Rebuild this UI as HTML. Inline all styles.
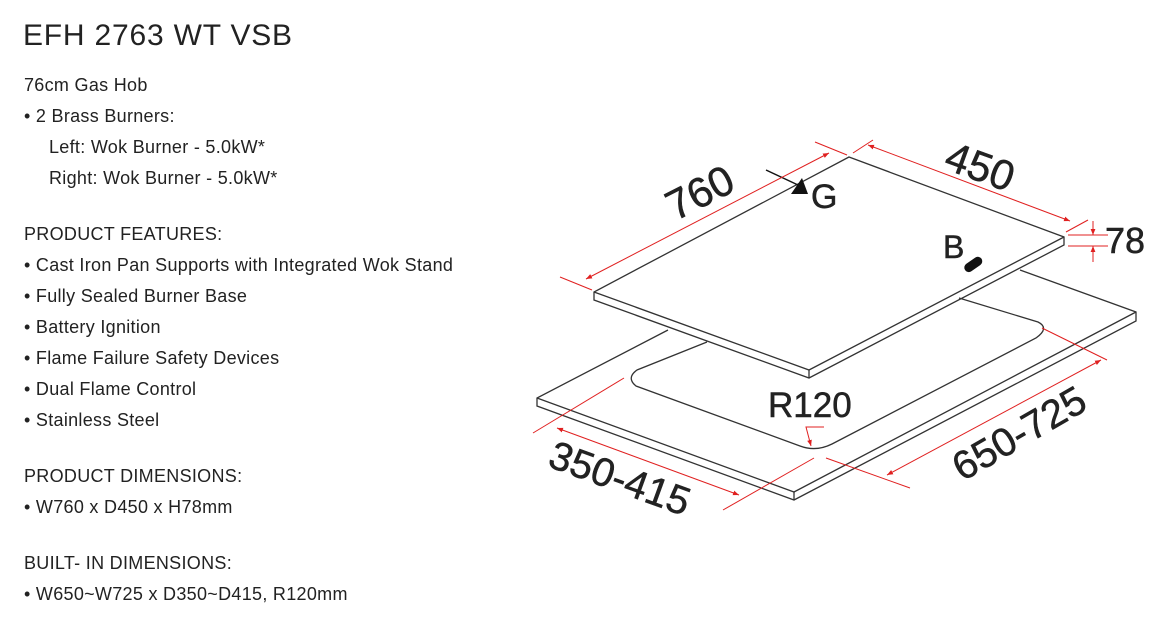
<!DOCTYPE html>
<html><head><meta charset="utf-8"><style>
html,body{margin:0;padding:0;background:#fff;}
body{width:1164px;height:630px;position:relative;overflow:hidden;font-family:"Liberation Sans",Arial,sans-serif;color:#222;}
.t{position:absolute;left:24px;white-space:nowrap;font-size:18px;line-height:20px;letter-spacing:0.3px;}
h1{position:absolute;left:23px;top:19px;margin:0;font-weight:normal;font-size:30px;line-height:34px;color:#222;letter-spacing:0.8px;}
svg{position:absolute;left:0;top:0;}
</style></head><body>
<h1>EFH 2763 WT VSB</h1>
<div class="t" style="top:75px">76cm Gas Hob</div>
<div class="t" style="top:106px">• 2 Brass Burners:</div>
<div class="t" style="top:137px;left:49px">Left: Wok Burner - 5.0kW*</div>
<div class="t" style="top:168px;left:49px">Right: Wok Burner - 5.0kW*</div>
<div class="t" style="top:224px">PRODUCT FEATURES:</div>
<div class="t" style="top:255px">• Cast Iron Pan Supports with Integrated Wok Stand</div>
<div class="t" style="top:286px">• Fully Sealed Burner Base</div>
<div class="t" style="top:317px">• Battery Ignition</div>
<div class="t" style="top:348px">• Flame Failure Safety Devices</div>
<div class="t" style="top:379px">• Dual Flame Control</div>
<div class="t" style="top:410px">• Stainless Steel</div>
<div class="t" style="top:466px">PRODUCT DIMENSIONS:</div>
<div class="t" style="top:497px">• W760 x D450 x H78mm</div>
<div class="t" style="top:553px">BUILT- IN DIMENSIONS:</div>
<div class="t" style="top:584px">• W650~W725 x D350~D415, R120mm</div>

<svg width="1164" height="630" viewBox="0 0 1164 630">
<defs>
<marker id="a" viewBox="0 0 10 10" refX="10" refY="5" markerWidth="6" markerHeight="6" orient="auto-start-reverse"><path d="M0,1 L10,5 L0,9 z" fill="#e02020"/></marker>
</defs>
<g fill="none" stroke="#333" stroke-width="1.3">
<path d="M668,330 L537,398 L537,406 L794,500 L1136,321 L1136,312 L1020,270"/>
<path d="M537,398 L794,492 L1136,312"/>
<path d="M794,492 L794,500"/>
<path d="M707,342 L637,370 Q626,378 636,386 L800,446 Q816,452 832,444 L1036,338 Q1050,328 1038,322 L959,298"/>
<path d="M849,157 L1064,237 L1064,245 L809,378 L594,300 L594,292 Z"/>
<path d="M594,292 L809,370 L1064,237"/>
<path d="M809,370 L809,378"/>
</g>
<rect x="963" y="260" width="20" height="9" rx="4.5" transform="rotate(-35 973 264)" fill="#111"/>
<line x1="766" y1="170" x2="798" y2="185" stroke="#111" stroke-width="1.5"/>
<path d="M808,194 L791,194 L802,178 Z" fill="#111"/>
<g stroke="#e02020" stroke-width="1" fill="none">
<line x1="586" y1="279" x2="829" y2="153" marker-start="url(#a)" marker-end="url(#a)"/>
<line x1="560" y1="277" x2="592" y2="290"/>
<line x1="815" y1="142" x2="847" y2="155"/>
<line x1="853" y1="153" x2="873" y2="140"/>
<line x1="868" y1="145" x2="1070" y2="221" marker-start="url(#a)" marker-end="url(#a)"/>
<line x1="1066" y1="232" x2="1088" y2="220"/>
<line x1="1068" y1="235" x2="1108" y2="235"/>
<line x1="1068" y1="246" x2="1108" y2="246"/>
<line x1="1093" y1="221" x2="1093" y2="235" marker-end="url(#a)"/>
<line x1="1093" y1="262" x2="1093" y2="246" marker-end="url(#a)"/>
<line x1="533" y1="433" x2="624" y2="378"/>
<line x1="723" y1="510" x2="814" y2="458"/>
<line x1="557" y1="428" x2="739" y2="495" marker-start="url(#a)" marker-end="url(#a)"/>
<line x1="826" y1="458" x2="910" y2="488"/>
<line x1="1042" y1="328" x2="1107" y2="360"/>
<line x1="887" y1="475" x2="1101" y2="360" marker-start="url(#a)" marker-end="url(#a)"/>
<path d="M824,427 L806,427 L811,446" marker-end="url(#a)"/>
</g>
<g font-family="Liberation Sans,Arial,sans-serif" fill="#222" stroke="#222" stroke-width="0.5">
<text x="700" y="207" font-size="42" transform="rotate(-27 700 193)" text-anchor="middle">760</text>
<text x="980" y="181" font-size="42" transform="rotate(20 980 167)" text-anchor="middle">450</text>
<text x="1105" y="253" font-size="36">78</text>
<text x="811" y="208" font-size="34">G</text>
<text x="943" y="258" font-size="32">B</text>
<text x="768" y="417" font-size="35">R120</text>
<text x="620" y="492" font-size="40" transform="rotate(20 620 478)" text-anchor="middle">350-415</text>
<text x="1019" y="447" font-size="40" transform="rotate(-30 1019 433)" text-anchor="middle">650-725</text>
</g>
</svg>
</body></html>
